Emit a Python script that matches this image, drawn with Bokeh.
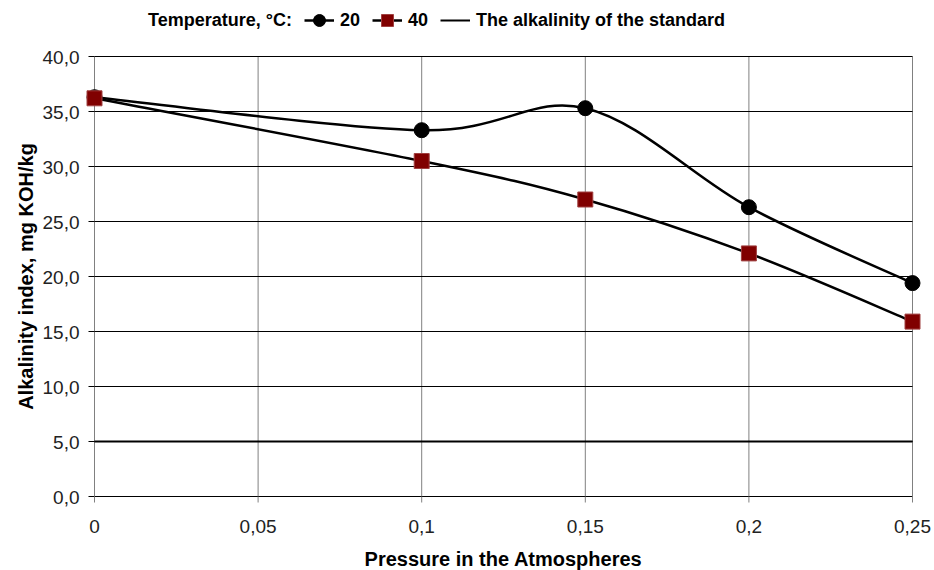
import math
from bokeh.plotting import figure
from bokeh.models import Legend, LegendItem, ColumnDataSource
from bokeh.core.properties import value
from bokeh.embed import file_html
from bokeh.resources import INLINE

# ---- data ----
pressure = [0, 0.1, 0.15, 0.2, 0.25]
alk_20 = [36.3, 33.3, 35.3, 26.3, 19.4]
alk_40 = [36.2, 30.5, 27.0, 22.1, 15.9]
standard = 5.0
x_ticks = [0, 0.05, 0.1, 0.15, 0.2, 0.25]
x_labels = ["0", "0,05", "0,1", "0,15", "0,2", "0,25"]
y_ticks = [0, 5, 10, 15, 20, 25, 30, 35, 40]
y_labels = ["0,0", "5,0", "10,0", "15,0", "20,0", "25,0", "30,0", "35,0", "40,0"]
legend_title = "Temperature, °C:"
series_names = ["20", "40", "The alkalinity of the standard"]
x_title = "Pressure in the Atmospheres"
y_title = "Alkalinity index, mg KOH/kg"

# ---- layout (pixels) ----
W, H = 934, 570
PX_LEFT, PX_RIGHT = 94, 912      # pixel of x = 0 and x = 0.25
PX_BOTTOM, PX_TOP = 496, 56      # pixel of y = 0 and y = 40
FONT = "Liberation Sans"
NAN = float("nan")

sx = (x_ticks[-1] - x_ticks[0]) / (PX_RIGHT - PX_LEFT)
sy = (y_ticks[-1] - y_ticks[0]) / (PX_BOTTOM - PX_TOP)
x_range = (x_ticks[0] - PX_LEFT * sx, x_ticks[-1] + (W - PX_RIGHT) * sx)
y_range = (y_ticks[0] - (H - PX_BOTTOM) * sy, y_ticks[-1] + PX_TOP * sy)


def smooth_segments(xs, ys):
    """Cubic Bezier control points (Catmull-Rom style smoothing, like Excel's smoothed line)."""
    n = len(xs)
    out = dict(x0=[], y0=[], x1=[], y1=[], cx0=[], cy0=[], cx1=[], cy1=[])
    for i in range(n - 1):
        xp, yp = (xs[i - 1], ys[i - 1]) if i > 0 else (xs[i], ys[i])
        xn, yn = (xs[i + 2], ys[i + 2]) if i + 2 < n else (xs[i + 1], ys[i + 1])
        out["x0"].append(xs[i]); out["y0"].append(ys[i])
        out["x1"].append(xs[i + 1]); out["y1"].append(ys[i + 1])
        out["cx0"].append(xs[i] + (xs[i + 1] - xp) / 6)
        out["cy0"].append(ys[i] + (ys[i + 1] - yp) / 6)
        out["cx1"].append(xs[i + 1] - (xn - xs[i]) / 6)
        out["cy1"].append(ys[i + 1] - (yn - ys[i]) / 6)
    return ColumnDataSource(out)


p = figure(width=W, height=H, frame_width=W, frame_height=H,
           x_range=x_range, y_range=y_range,
           output_backend="svg", toolbar_location=None, min_border=0)
p.outline_line_color = None
p.axis.visible = False
p.grid.visible = False
p.background_fill_color = "white"
p.border_fill_color = "white"

nx, ny = len(x_ticks), len(y_ticks)
x0v, x1v = x_ticks[0], x_ticks[-1]
y0v, y1v = y_ticks[0], y_ticks[-1]

# vertical grid lines (grey) incl. the value axis line
p.segment(x0=x_ticks, y0=[y0v] * nx, x1=x_ticks, y1=[y1v] * nx,
          line_color="#808080", line_width=1)
# horizontal grid lines (black) incl. the category axis line
p.segment(x0=[x0v] * ny, y0=y_ticks, x1=[x1v] * ny, y1=y_ticks,
          line_color="#000000", line_width=1)

# tick marks
p.ray(x=[x0v] * ny, y=y_ticks, length=6, length_units="screen", angle=math.pi,
      line_color="#000000", line_width=1)
p.ray(x=x_ticks, y=[y0v] * nx, length=6, length_units="screen", angle=-math.pi / 2,
      line_color="#808080", line_width=1)

# tick labels
p.text(x=[x0v] * ny, y=y_ticks, text=y_labels, x_offset=-15, y_offset=1,
       text_align="right", text_baseline="middle",
       text_font=value(FONT), text_font_size=value("19px"), text_color="#222222")
p.text(x=x_ticks, y=[y0v] * nx, text=x_labels, x_offset=0, y_offset=30,
       text_align="center", text_baseline="middle",
       text_font=value(FONT), text_font_size=value("19px"), text_color="#222222")

# axis titles
p.text(x=[(x0v + x1v) / 2], y=[y0v], text=[x_title], y_offset=62,
       text_align="center", text_baseline="middle",
       text_font=value(FONT), text_font_size=value("20px"), text_font_style=value("bold"),
       text_color="#000000")
p.text(x=[x0v], y=[(y0v + y1v) / 2], text=[y_title], x_offset=-69, y_offset=0,
       angle=math.pi / 2, text_align="center", text_baseline="middle",
       text_font=value(FONT), text_font_size=value("20px"), text_font_style=value("bold"),
       text_color="#000000")

# standard line
std_r = p.line([pressure[0], pressure[-1]], [standard, standard], line_color="black", line_width=2)

# smoothed curves
p.bezier(x0="x0", y0="y0", x1="x1", y1="y1", cx0="cx0", cy0="cy0", cx1="cx1", cy1="cy1",
         source=smooth_segments(pressure, alk_20), line_color="black", line_width=2.5)
p.bezier(x0="x0", y0="y0", x1="x1", y1="y1", cx0="cx0", cy0="cy0", cx1="cx1", cy1="cy1",
         source=smooth_segments(pressure, alk_40), line_color="black", line_width=2.5)

s20 = p.scatter(pressure, alk_20, marker="circle", size=15, fill_color="black", line_color="black")
s40 = p.scatter(pressure, alk_40, marker="square", size=15, fill_color="#800000",
                line_color="#a04040", line_width=1)

# legend proxies (draw nothing in the plot)
l20 = p.line([NAN], [NAN], line_color="black", line_width=2.5)
l40 = p.line([NAN], [NAN], line_color="black", line_width=2.5)
dummy = p.line([NAN], [NAN], line_alpha=0)

legend = Legend(items=[
    LegendItem(label=legend_title, renderers=[dummy]),
    LegendItem(label=series_names[0], renderers=[l20, s20]),
    LegendItem(label=series_names[1], renderers=[l40, s40]),
    LegendItem(label=series_names[2], renderers=[std_r]),
], orientation="horizontal", location=(112, H - 36))
legend.label_text_font = FONT
legend.label_text_font_size = "18px"
legend.label_text_font_style = "bold"
legend.label_text_color = "#000000"
legend.label_standoff = 6
legend.glyph_width = 30
legend.glyph_height = 32
legend.label_height = 20
legend.spacing = 12
legend.padding = 0
legend.margin = 0
legend.border_line_color = None
legend.background_fill_alpha = 0
p.add_layout(legend)

open("out.html", "w").write(file_html(p, INLINE))
